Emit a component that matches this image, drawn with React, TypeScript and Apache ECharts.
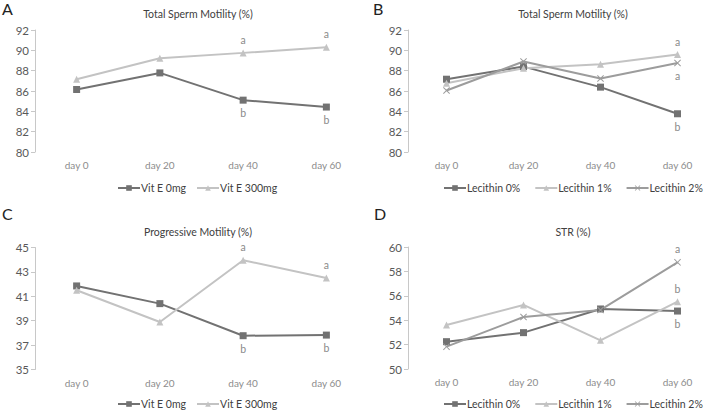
import React, { useEffect, useRef } from "react";
import * as echarts from "echarts";

const days = ["day 0", "day 20", "day 40", "day 60"];

// Panel A – Total Sperm Motility (%), Vit E
const aVitE0 = [86.15, 87.78, 85.1, 84.42];
const aVitE300 = [87.16, 89.22, 89.75, 90.3];
// Panel B – Total Sperm Motility (%), Lecithin
const bLec0 = [87.16, 88.4, 86.38, 83.76];
const bLec1 = [86.77, 88.24, 88.63, 89.58];
const bLec2 = [86.05, 88.9, 87.23, 88.76];
// Panel C – Progressive Motility (%), Vit E
const cVitE0 = [41.85, 40.4, 37.77, 37.82];
const cVitE300 = [41.5, 38.89, 43.96, 42.5];
// Panel D – STR (%), Lecithin
const dLec0 = [52.24, 52.98, 54.92, 54.75];
const dLec1 = [53.6, 55.25, 52.35, 55.52];
const dLec2 = [51.83, 54.26, 54.84, 58.74];

// significance letters per point ("" = none)
const aLab0 = ["", "", "b", "b"];
const aLab300 = ["", "", "a", "a"];
const bLab0 = ["", "", "", "b"];
const bLab1 = ["", "", "", "a"];
const bLab2 = ["", "", "", "a"];
const cLab0 = ["", "", "b", "b"];
const cLab300 = ["", "", "a", "a"];
const dLab0 = ["", "", "", "b"];
const dLab1 = ["", "", "", "b"];
const dLab2 = ["", "", "", "a"];

const FONT = "Lato";
const DARK = "#727272";
const LIGHT = "#c3c3c3";
const MID = "#9c9c9c";
const XSYM = "path://M0,1L1,0L5,4L9,0L10,1L6,5L10,9L9,10L5,6L1,10L0,9L4,5Z";

function withLabels(vals: number[], labs: string[], pos: string) {
  return vals.map((v, i) =>
    labs[i]
      ? {
          value: v,
          label: {
            show: true,
            formatter: labs[i],
            position: pos,
            distance: 4,
            color: "#8a8a8a",
            fontSize: 10.5,
            fontFamily: FONT,
          },
        }
      : v
  );
}

function mkSeries(
  name: string,
  idx: number,
  vals: number[],
  labs: string[],
  pos: string,
  color: string,
  symbol: string,
  size: number
) {
  return {
    type: "line",
    name,
    xAxisIndex: idx,
    yAxisIndex: idx,
    data: withLabels(vals, labs, pos),
    symbol,
    symbolSize: size,
    lineStyle: { color, width: 2 },
    itemStyle: { color },
    z: 3,
  };
}

export default function App() {
  const ref = useRef<HTMLDivElement>(null);
  useEffect(() => {
    document.body.style.margin = "0";
    const chart = echarts.init(ref.current!, undefined, { renderer: "svg" });
    const grids = [
      { left: 35, top: 30, width: 333, height: 122 },
      { left: 408, top: 30, width: 333, height: 122 },
      { left: 35, top: 247.5, width: 333, height: 122 },
      { left: 408, top: 247, width: 333, height: 122 },
    ];
    const yRanges = [
      [80, 92],
      [80, 92],
      [35, 45],
      [50, 60],
    ];
    const option: any = {
      animation: false,
      backgroundColor: "#ffffff",
      textStyle: { fontFamily: FONT },
      title: [
        { text: "Total Sperm Motility (%)", left: 193, top: 3 },
        { text: "Total Sperm Motility (%)", left: 568, top: 3 },
        { text: "Progressive Motility (%)", left: 193, top: 221 },
        { text: "STR (%)", left: 568, top: 221 },
      ].map((t) => ({
        ...t,
        textAlign: "center",
        textStyle: { fontSize: 10.5, fontWeight: "normal", color: "#404040", fontFamily: FONT },
      })),
      grid: grids,
      xAxis: grids.map((_, i) => ({
        type: "category",
        gridIndex: i,
        data: days,
        boundaryGap: true,
        axisLine: { show: false },
        axisTick: { show: false },
        axisLabel: { color: "#8c8c8c", fontSize: 10, margin: 8, fontFamily: FONT },
      })),
      yAxis: grids.map((_, i) => ({
        type: "value",
        gridIndex: i,
        min: yRanges[i][0],
        max: yRanges[i][1],
        interval: 2,
        splitLine: { show: false },
        axisLine: { show: true, lineStyle: { color: "#c8c8c8", width: 1 } },
        axisTick: { show: true, length: 4, lineStyle: { color: "#c8c8c8" } },
        axisLabel: { color: "#595959", fontSize: 11.5, margin: 6, fontFamily: FONT },
      })),
      legend: [
        { data: ["Vit E 0mg", "Vit E 300mg"], left: 117, top: 182.5, itemGap: 10 },
        { data: ["Lecithin 0%", "Lecithin 1%", "Lecithin 2%"], left: 443, top: 182.5, itemGap: 14 },
        { data: ["Vit E 0mg", "Vit E 300mg"], left: 117, top: 398.5, itemGap: 10 },
        { data: ["Lecithin 0%", "Lecithin 1%", "Lecithin 2%"], left: 443, top: 398.5, itemGap: 14 },
      ].map((l) => ({
        ...l,
        width: 300,
        padding: 0,
        itemWidth: 22,
        itemHeight: 7,
        selectedMode: false,
        textStyle: { color: "#404040", fontSize: 10.5, fontFamily: FONT, padding: [0, 0, 0, -4] },
      })),
      graphic: [
        { type: "text", left: 2, top: 0, style: { text: "A", fontSize: 16, fill: "#222", fontFamily: FONT } },
        { type: "text", left: 373, top: 0, style: { text: "B", fontSize: 16, fill: "#222", fontFamily: FONT } },
        { type: "text", left: 2, top: 205, style: { text: "C", fontSize: 16, fill: "#222", fontFamily: FONT } },
        { type: "text", left: 374, top: 205, style: { text: "D", fontSize: 16, fill: "#222", fontFamily: FONT } },
      ],
      series: [
        mkSeries("Vit E 0mg", 0, aVitE0, aLab0, "bottom", DARK, "rect", 7),
        mkSeries("Vit E 300mg", 0, aVitE300, aLab300, "top", LIGHT, "triangle", 7),
        mkSeries("Lecithin 0%", 1, bLec0, bLab0, "bottom", DARK, "rect", 7),
        mkSeries("Lecithin 1%", 1, bLec1, bLab1, "top", LIGHT, "triangle", 7),
        mkSeries("Lecithin 2%", 1, bLec2, bLab2, "bottom", MID, XSYM, 7),
        mkSeries("Vit E 0mg", 2, cVitE0, cLab0, "bottom", DARK, "rect", 7),
        mkSeries("Vit E 300mg", 2, cVitE300, cLab300, "top", LIGHT, "triangle", 7),
        mkSeries("Lecithin 0%", 3, dLec0, dLab0, "bottom", DARK, "rect", 7),
        mkSeries("Lecithin 1%", 3, dLec1, dLab1, "top", LIGHT, "triangle", 7),
        mkSeries("Lecithin 2%", 3, dLec2, dLab2, "top", MID, XSYM, 7),
      ],
    };
    chart.setOption(option);
    return () => chart.dispose();
  }, []);
  return (
    <div
      ref={ref}
      style={{ position: "absolute", left: 0, top: 0, width: 716, height: 411 }}
    />
  );
}
